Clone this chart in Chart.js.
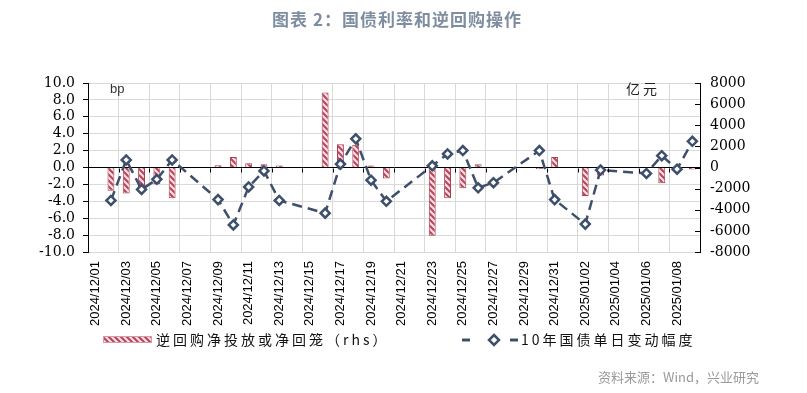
<!DOCTYPE html>
<html>
<head>
<meta charset="utf-8">
<script src="https://cdn.jsdelivr.net/npm/chart.js@4.4.1/dist/chart.umd.min.js"></script>
<style>
  html, body { margin: 0; padding: 0; background: #fff; }
  canvas { display: block; }
</style>
</head>
<body>
<canvas id="chart" width="807" height="393"></canvas>
<script>
// trading days only, weekends/holiday left empty
const dates = [
  '2024/12/01', '2024/12/02', '2024/12/03', '2024/12/04', '2024/12/05', '2024/12/06', '2024/12/07', '2024/12/08',
  '2024/12/09', '2024/12/10', '2024/12/11', '2024/12/12', '2024/12/13', '2024/12/14', '2024/12/15', '2024/12/16',
  '2024/12/17', '2024/12/18', '2024/12/19', '2024/12/20', '2024/12/21', '2024/12/22', '2024/12/23', '2024/12/24',
  '2024/12/25', '2024/12/26', '2024/12/27', '2024/12/28', '2024/12/29', '2024/12/30', '2024/12/31', '2025/01/01',
  '2025/01/02', '2025/01/03', '2025/01/04', '2025/01/05', '2025/01/06', '2025/01/07', '2025/01/08', '2025/01/09'
];

// 逆回购净投放或净回笼, 亿元 (rhs)
const repoNet = [
  null, -2200, -2460, -1900, -1580, -2900, null, null,
  220, 1000, 400, 300, 200, null, null, 7100,
  2200, 2150, 200, -1040, null, null, -6470, -2900,
  -1960, 310, 50, null, null, -150, 1000, null,
  -2690, -750, null, null, null, -1490, null, -200
];

// 10年国债单日变动幅度, bp
const yieldChange = [
  null, -3.9, 0.9, -2.6, -1.4, 0.9, null, null,
  -3.8, -6.8, -2.3, -0.4, -3.9, null, null, -5.4,
  0.4, 3.4, -1.5, -4.0, null, null, 0.2, 1.6,
  2.0, -2.4, -1.8, null, null, 2.0, -3.8, null,
  -6.7, -0.3, null, null, -0.7, 1.4, -0.2, 3.1
];

const barLabel = '逆回购净投放或净回笼（rhs）';
const lineLabel = '10年国债单日变动幅度';

const lineColor = '#3d4f6b';

function makeHatch() {
  const c = document.createElement('canvas');
  c.width = 6; c.height = 6;
  const g = c.getContext('2d');
  g.fillStyle = '#fbdde3';
  g.fillRect(0, 0, 6, 6);
  g.strokeStyle = '#b3455c';
  g.lineWidth = 2;
  g.beginPath();
  g.moveTo(-1, -1); g.lineTo(7, 7);
  g.moveTo(-1, 5); g.lineTo(1, 7);
  g.moveTo(5, -1); g.lineTo(7, 1);
  g.stroke();
  return g.createPattern(c, 'repeat');
}
const hatch = makeHatch();

function spacedText(ctx, text, x, y, font, color, align, spacing) {
  ctx.save();
  ctx.font = font;
  ctx.fillStyle = color;
  ctx.textAlign = align;
  ctx.textBaseline = 'middle';
  ctx.letterSpacing = spacing || '0px';
  ctx.fillText(text, x, y);
  ctx.restore();
}

const extras = {
  id: 'extras',
  afterDraw(chart) {
    const { ctx, chartArea, scales } = chart;
    const x = scales.x, y = scales.y, y1 = scales.y1;

    ctx.save();
    ctx.strokeStyle = '#000';
    ctx.lineWidth = 1;
    ctx.beginPath();
    // small marks under the zero line
    const zero = Math.round(y.getPixelForValue(0)) + 0.5;
    const step = x.getPixelForValue(1) - x.getPixelForValue(0);
    for (let i = 2; i < dates.length; i += 2) {
      const bx = Math.round(x.getPixelForValue(i) - step / 2) + 0.5;
      ctx.moveTo(bx, zero);
      ctx.lineTo(bx, zero + 4);
    }
    // inward ticks on right axis
    y1.ticks.forEach(t => {
      const py = Math.round(y1.getPixelForValue(t.value)) + 0.5;
      ctx.moveTo(chartArea.right - 5, py);
      ctx.lineTo(chartArea.right, py);
    });
    ctx.stroke();
    ctx.restore();

    // titles and units
    spacedText(ctx, '图表 2：国债利率和逆回购操作', 397, 20, 'bold 17px "Noto Sans CJK SC"', '#7f8da1', 'center', '1px');
    spacedText(ctx, 'bp', 110, 89, '13px "Liberation Sans"', '#333', 'left');
    spacedText(ctx, '亿元', 626, 89, '14px "Noto Sans CJK SC"', '#222', 'left', '3px');
    spacedText(ctx, '资料来源：Wind，兴业研究', 759, 377, '13px "Noto Sans CJK SC"', '#9a9a9a', 'right');

    // legend
    const ly = 339;
    ctx.save();
    ctx.fillStyle = hatch;
    ctx.fillRect(103, ly - 3, 49, 7);
    ctx.strokeStyle = '#d89aa6';
    ctx.lineWidth = 1;
    ctx.strokeRect(103.5, ly - 2.5, 48, 6);
    ctx.restore();
    spacedText(ctx, barLabel, 156, ly + 1, '14px "Noto Sans CJK SC"', '#111', 'left', '3px');

    ctx.save();
    ctx.strokeStyle = lineColor;
    ctx.lineWidth = 3;
    ctx.beginPath();
    ctx.moveTo(462, ly + 1); ctx.lineTo(470, ly + 1);
    ctx.moveTo(510, ly + 1); ctx.lineTo(518, ly + 1);
    ctx.stroke();
    ctx.lineWidth = 2.5;
    ctx.beginPath();
    ctx.moveTo(494, ly - 4); ctx.lineTo(499, ly + 1); ctx.lineTo(494, ly + 6); ctx.lineTo(489, ly + 1);
    ctx.closePath();
    ctx.fillStyle = '#fff';
    ctx.fill();
    ctx.stroke();
    ctx.restore();
    spacedText(ctx, lineLabel, 521, ly + 1, '14px "Noto Sans CJK SC"', '#111', 'left', '3px');
  }
};

new Chart(document.getElementById('chart'), {
  data: {
    labels: dates,
    datasets: [
      {
        type: 'line',
        label: lineLabel,
        data: yieldChange,
        yAxisID: 'y',
        order: 0,
        borderColor: lineColor,
        borderWidth: 2.5,
        borderDash: [10, 6],
        spanGaps: true,
        tension: 0,
        pointStyle: 'rectRot',
        pointRadius: 4.5,
        pointBorderWidth: 2.5,
        pointBackgroundColor: '#fff',
        pointBorderColor: lineColor
      },
      {
        type: 'bar',
        label: barLabel,
        data: repoNet,
        yAxisID: 'y1',
        order: 1,
        backgroundColor: hatch,
        borderColor: '#a8404f',
        borderWidth: 1,
        barPercentage: 0.45,
        categoryPercentage: 1
      }
    ]
  },
  options: {
    responsive: false,
    devicePixelRatio: 1,
    animation: false,
    layout: { padding: { top: 83, left: 0, right: 0, bottom: 61 } },
    plugins: {
      legend: { display: false },
      title: { display: false },
      tooltip: { enabled: false }
    },
    scales: {
      x: {
        offset: true,
        afterFit: s => { s.height = 80; },
        border: { display: false },
        grid: {
          offset: true,
          drawTicks: false,
          color: c => (c.index % 2 === 0 ? '#d9d9d9' : 'rgba(0,0,0,0)')
        },
        ticks: {
          autoSkip: false,
          minRotation: 90,
          maxRotation: 90,
          padding: 9,
          color: '#000',
          font: { family: 'Liberation Sans', size: 13 },
          callback: (v, i) => (i % 2 === 0 ? dates[i] : '')
        }
      },
      y: {
        position: 'left',
        min: -10,
        max: 10,
        afterFit: s => { s.width = 88; },
        border: { display: true, color: '#000' },
        grid: {
          color: c => (c.tick && c.tick.value === 0 ? '#000' : '#d9d9d9'),
          tickColor: '#000',
          tickLength: 5
        },
        ticks: {
          stepSize: 2,
          autoSkip: false,
          padding: 8,
          color: '#000',
          font: { family: 'DejaVu Serif', size: 14 },
          callback: v => v.toFixed(1)
        }
      },
      y1: {
        position: 'right',
        min: -8000,
        max: 8000,
        afterFit: s => { s.width = 107; },
        border: { display: true, color: '#000' },
        grid: { drawOnChartArea: false, drawTicks: false },
        ticks: {
          stepSize: 2000,
          autoSkip: false,
          padding: 10,
          color: '#000',
          font: { family: 'DejaVu Serif', size: 14 },
          callback: v => String(Math.round(v))
        }
      }
    }
  },
  plugins: [extras]
});
</script>
</body>
</html>
